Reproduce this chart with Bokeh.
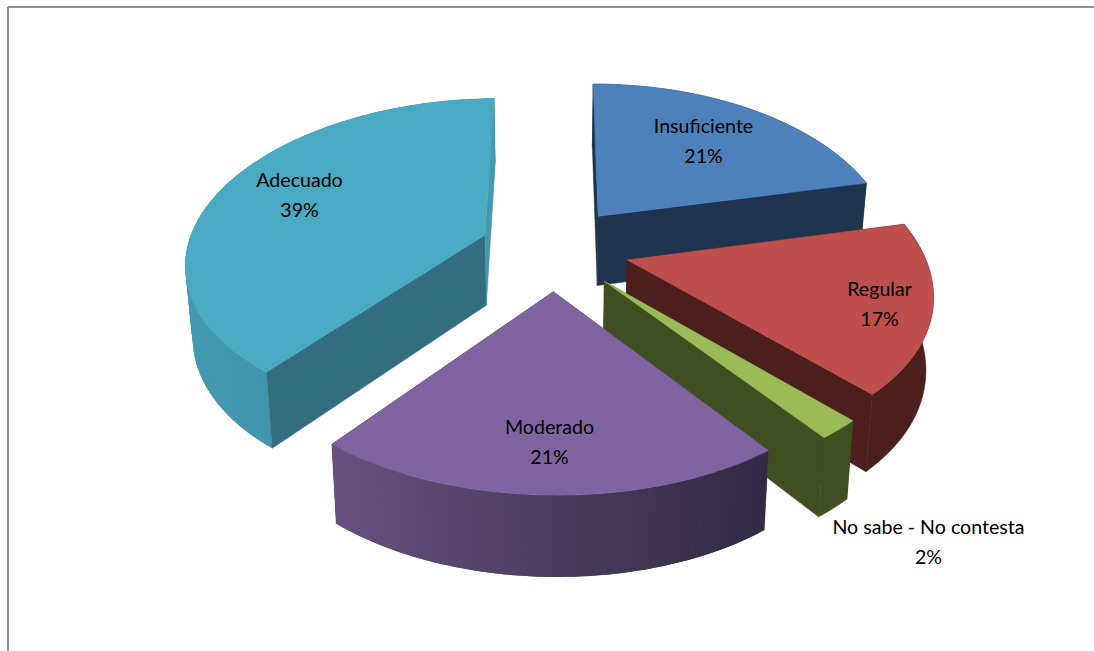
import math

from bokeh.core.properties import value
from bokeh.embed import file_html
from bokeh.models import Range1d
from bokeh.plotting import figure
from bokeh.resources import INLINE

# Chart data, in drawing sequence around the pie (clockwise from the top)
categories = ["Insuficiente", "Regular", "No sabe - No contesta", "Moderado", "Adecuado"]
percentages = [21, 17, 2, 21, 39]

# Slice colours: top face, cut faces, outer wall (left and right end of its shading)
top_colors = ["#4E80BB", "#BE4F4C", "#9BBB59", "#8063A1", "#4AA9C3"]
cut_colors = ["#1F344F", "#4C1F1D", "#404F22", "#4B3B5C", "#336E80"]
wall_left = ["#1F344F", "#4C1F1D", "#404F22", "#67517F", "#4499B1"]
wall_right = ["#1F344F", "#4C1F1D", "#404F22", "#312A42", "#3A8AA1"]

# Anchor of each label's first line, in page pixels
label_x = [703, 879, 928, 549, 299]
label_y = [125, 288, 526, 426, 179]

# Projection of the tilted pie plane onto the page
CENTER_X, CENTER_Y = 554.0, 248.0
RADIUS_X, RADIUS_Y = 298.0, 160.0
PERSPECTIVE_X, PERSPECTIVE_Y = 0.16, 0.145
BEND = 2.7
RIGHT_SHEAR, RIGHT_DROOP = 4.0, 4.0
EXPLODE_U, EXPLODE_V = 0.25, 0.26
ROTATION = -0.8


def project(u, v):
    x = CENTER_X + RADIUS_X * u / (1.0 - PERSPECTIVE_X * v) + BEND * v * v
    y = CENTER_Y + RADIUS_Y * v / (1.0 - PERSPECTIVE_Y * v)
    right = max(u, 0.0)
    return x - RIGHT_SHEAR * v * right, y + RIGHT_DROOP * right * right


def drop(point):
    """Lower a point of the top face to the pie's underside."""
    x, y = point
    return x - (x - 552.0) * 0.02, y + 59.5 + 0.045 * y


def mix(a, b, f):
    ca = [int(a[i:i + 2], 16) for i in (1, 3, 5)]
    cb = [int(b[i:i + 2], 16) for i in (1, 3, 5)]
    return "#%02x%02x%02x" % tuple(round(p + (q - p) * f) for p, q in zip(ca, cb))


def draw_cuts(i, apex, arc):
    """The two radial faces; the Adecuado closing face catches more light."""
    d_apex = drop(apex)
    closing = mix(cut_colors[i], top_colors[i], 0.72) if i == 4 else cut_colors[i]
    for edge, shade in ((arc[0], cut_colors[i]), (arc[-1], closing)):
        d_edge = drop(edge)
        p.patch([apex[0], edge[0], d_edge[0], d_apex[0]],
                [apex[1], edge[1], d_edge[1], d_apex[1]],
                fill_color=shade, line_color=shade, line_width=0.5)


def draw_wall(i, arc):
    """Outer wall; shaded walls are painted as overlapping strips."""
    if wall_left[i] == wall_right[i]:
        lower = [drop(q) for q in reversed(arc)]
        ring = arc + lower
        p.patch([q[0] for q in ring], [q[1] for q in ring],
                fill_color=wall_left[i], line_color=wall_left[i], line_width=0.5)
        return
    left = min(q[0] for q in arc)
    right = max(q[0] for q in arc)
    n = len(arc) - 1
    for k in range(n):
        part = arc[k:min(k + 3, n + 1)]
        ring = part + [drop(q) for q in reversed(part)]
        f = ((arc[k][0] + arc[k + 1][0]) / 2 - left) / (right - left)
        # Painted in the direction the arc runs, so later strips cover earlier seams
        shade = mix(wall_left[i], wall_right[i], f)
        p.patch([q[0] for q in ring], [q[1] for q in ring],
                fill_color=shade, line_color=None)


p = figure(width=1094, height=651, output_backend="svg", toolbar_location=None,
           x_range=Range1d(0, 1094), y_range=Range1d(651, 0),
           min_border=0, outline_line_color=None, background_fill_color="white")
p.axis.visible = False
p.grid.visible = False

# Frame of the chart area: only its top and left edges are in view
p.segment([7.5, 7.5], [6.5, 6.5], [1094, 7.5], [6.5, 651], line_color="#8F8F8F", line_width=2)

total = sum(percentages)
slices = []
cumulative = 0
for share in percentages:
    start = ROTATION + 360.0 * cumulative / total
    end = ROTATION + 360.0 * (cumulative + share) / total
    slices.append((start, end))
    cumulative += share

# Back slices first, so nearer ones overlap them
for i in (4, 0, 1, 2, 3):
    start, end = slices[i]
    mid = math.radians((start + end) / 2)
    au, av = EXPLODE_U * math.sin(mid), -EXPLODE_V * math.cos(mid)
    apex = project(au, av)

    steps = max(8, int((end - start) * 0.8))
    arc = []
    for k in range(steps + 1):
        t = math.radians(start + (end - start) * k / steps)
        arc.append(project(au + math.sin(t), av - math.cos(t)))

    # A slice straddling the front shows only its wall; the cuts stay behind it
    if start < 180 < end:
        draw_cuts(i, apex, arc)
        draw_wall(i, arc)
    else:
        draw_wall(i, arc)
        draw_cuts(i, apex, arc)

    # Top face
    outline = [apex] + arc
    p.patch([q[0] for q in outline], [q[1] for q in outline],
            fill_color=top_colors[i], line_color=top_colors[i], line_width=0.5)

# Labels: name on the first line, percentage on the second
for name, share, x, y in zip(categories, percentages, label_x, label_y):
    for text, dy in ((name, 0), (f"{share}%", 30)):
        p.text([x], [y + dy], text=[text], text_font=value("Lato"), text_font_size="19.6px",
               text_color="#000000", text_align="center", text_baseline="middle")

open("out.html", "w").write(file_html(p, INLINE))
